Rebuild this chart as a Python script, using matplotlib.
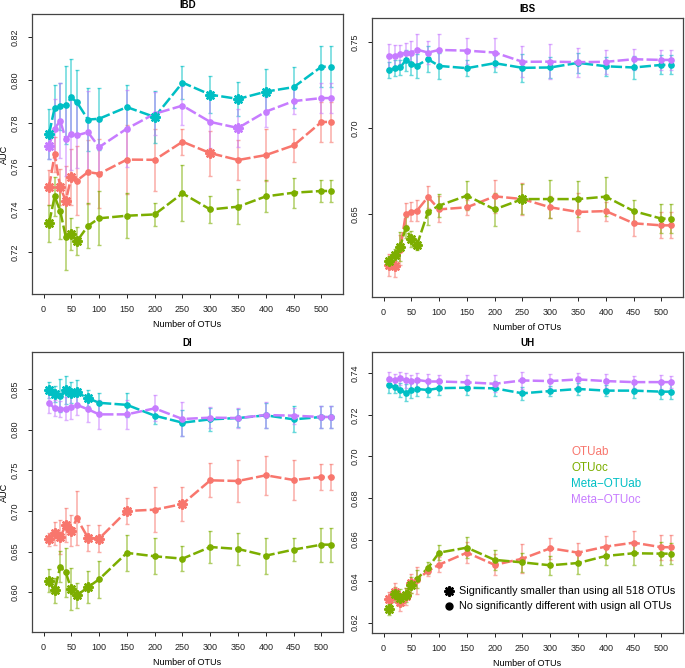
import matplotlib
matplotlib.use('Agg')
import matplotlib.pyplot as plt

plt.rcParams['font.family'] = ['Liberation Sans', 'DejaVu Sans']

# ---------------- data ----------------
x = [10, 20, 30, 40, 50, 60, 80, 100, 150, 200, 250, 300, 350, 400, 450, 500, 518]
series_names = ['OTUab', 'OTUoc', 'Meta\u2212OTUab', 'Meta\u2212OTUoc']

# IBD
ibd_otuab = [0.7501, 0.7654, 0.7503, 0.7438, 0.7549, 0.7532, 0.7572, 0.7564, 0.7630, 0.7629, 0.7713, 0.7660, 0.7628, 0.7651, 0.7696, 0.7805, 0.7805]
ibd_otuoc = [0.7334, 0.7459, 0.7391, 0.7271, 0.7284, 0.7250, 0.7322, 0.7357, 0.7369, 0.7375, 0.7473, 0.7398, 0.7411, 0.7459, 0.7476, 0.7484, 0.7484]
ibd_metaab = [0.7749, 0.7871, 0.7877, 0.7884, 0.7919, 0.7897, 0.7816, 0.7820, 0.7874, 0.7828, 0.7988, 0.7932, 0.7912, 0.7946, 0.7967, 0.8062, 0.8062]
ibd_metaoc = [0.7695, 0.7773, 0.7811, 0.7725, 0.7750, 0.7743, 0.7757, 0.7688, 0.7774, 0.7843, 0.7881, 0.7805, 0.7777, 0.7853, 0.7902, 0.7916, 0.7916]
ibd_otuab_err = [0.008, 0.008, 0.0085, 0.016, 0.013, 0.016, 0.015, 0.016, 0.016, 0.0145, 0.006, 0.0105, 0.0095, 0.012, 0.0075, 0.0095, 0.0095]
ibd_otuoc_err = [0.0085, 0.009, 0.013, 0.0155, 0.0075, 0.0065, 0.0105, 0.0125, 0.0105, 0.0055, 0.013, 0.0065, 0.008, 0.0075, 0.007, 0.0052, 0.0052]
ibd_metaab_err = [0.0115, 0.0105, 0.011, 0.018, 0.018, 0.015, 0.0145, 0.0145, 0.0105, 0.012, 0.0075, 0.0085, 0.008, 0.0105, 0.0095, 0.0095, 0.0095]
ibd_metaoc_err = [0.006, 0.014, 0.0175, 0.017, 0.017, 0.015, 0.019, 0.012, 0.018, 0.010, 0.009, 0.012, 0.009, 0.007, 0.006, 0.007, 0.007]
ibd_otuab_sig = [10, 30, 40, 50, 300]
ibd_otuoc_sig = [10, 50, 60]
ibd_metaab_sig = [10, 200, 300, 350, 400]
ibd_metaoc_sig = [10, 350]

# IBS
ibs_otuab = [0.6203, 0.6199, 0.6290, 0.6500, 0.6514, 0.6519, 0.6599, 0.6527, 0.6539, 0.6603, 0.6587, 0.6539, 0.6512, 0.6517, 0.6446, 0.6434, 0.6434]
ibs_otuoc = [0.6226, 0.6261, 0.6310, 0.6420, 0.6354, 0.6318, 0.6512, 0.6549, 0.6607, 0.6527, 0.6587, 0.6587, 0.6587, 0.6601, 0.6517, 0.6473, 0.6473]
ibs_metaab = [0.7337, 0.7349, 0.7353, 0.7395, 0.7376, 0.7364, 0.7401, 0.7362, 0.7349, 0.7378, 0.7351, 0.7353, 0.7380, 0.7360, 0.7353, 0.7368, 0.7368]
ibs_metaoc = [0.7420, 0.7420, 0.7430, 0.7438, 0.7440, 0.7457, 0.7440, 0.7455, 0.7451, 0.7440, 0.7386, 0.7387, 0.7384, 0.7386, 0.7401, 0.7397, 0.7397]
ibs_otuab_err = [0.0065, 0.0065, 0.0085, 0.0065, 0.0055, 0.006, 0.0065, 0.0075, 0.0045, 0.0095, 0.0095, 0.0065, 0.011, 0.0055, 0.0075, 0.0075, 0.0075]
ibs_otuoc_err = [0.003, 0.0035, 0.0085, 0.006, 0.0045, 0.003, 0.0075, 0.0065, 0.0085, 0.0095, 0.0085, 0.011, 0.0105, 0.0115, 0.0065, 0.0085, 0.0085]
ibs_metaab_err = [0.0045, 0.0045, 0.0045, 0.006, 0.0065, 0.007, 0.0075, 0.0075, 0.0048, 0.0052, 0.008, 0.006, 0.006, 0.0055, 0.0065, 0.0055, 0.0055]
ibs_metaoc_err = [0.007, 0.0065, 0.0055, 0.0055, 0.0065, 0.009, 0.0065, 0.009, 0.0075, 0.0085, 0.009, 0.010, 0.0085, 0.007, 0.006, 0.006, 0.006]
ibs_otuab_sig = [10, 20]
ibs_otuoc_sig = [10, 20, 30, 50, 60, 250]
ibs_metaab_sig = []
ibs_metaoc_sig = []

# DI
di_otuab = [0.6650, 0.6725, 0.6677, 0.6825, 0.6760, 0.6910, 0.6671, 0.6660, 0.7000, 0.7016, 0.7086, 0.7377, 0.7369, 0.7439, 0.7381, 0.7418, 0.7418]
di_otuoc = [0.6143, 0.6023, 0.6315, 0.6246, 0.6037, 0.5963, 0.6063, 0.6160, 0.6485, 0.6443, 0.6414, 0.6557, 0.6533, 0.6451, 0.6525, 0.6586, 0.6586]
di_metaab = [0.8490, 0.8443, 0.8420, 0.8490, 0.8452, 0.8458, 0.8387, 0.8330, 0.8305, 0.8172, 0.8086, 0.8127, 0.8143, 0.8176, 0.8127, 0.8156, 0.8156]
di_metaoc = [0.8328, 0.8262, 0.8250, 0.8260, 0.8282, 0.8305, 0.8250, 0.8188, 0.8188, 0.8262, 0.8131, 0.8148, 0.8143, 0.8180, 0.8172, 0.8156, 0.8156]
di_otuab_err = [0.0085, 0.014, 0.021, 0.021, 0.019, 0.033, 0.016, 0.017, 0.016, 0.028, 0.021, 0.021, 0.026, 0.024, 0.024, 0.016, 0.016]
di_otuoc_err = [0.014, 0.015, 0.019, 0.030, 0.026, 0.015, 0.020, 0.023, 0.022, 0.022, 0.015, 0.020, 0.020, 0.022, 0.014, 0.021, 0.021]
di_metaab_err = [0.010, 0.010, 0.020, 0.017, 0.013, 0.015, 0.010, 0.012, 0.015, 0.010, 0.016, 0.014, 0.011, 0.015, 0.016, 0.013, 0.013]
di_metaoc_err = [0.012, 0.010, 0.010, 0.014, 0.015, 0.013, 0.015, 0.018, 0.018, 0.016, 0.021, 0.013, 0.012, 0.016, 0.010, 0.014, 0.014]
di_otuab_sig = [10, 20, 30, 40, 50, 80, 100, 150, 250]
di_otuoc_sig = [10, 20, 50, 60, 80]
di_metaab_sig = [10, 20, 40, 50, 60, 80]
di_metaoc_sig = []

# UH
uh_otuab = [0.6312, 0.6349, 0.6299, 0.6327, 0.6390, 0.6405, 0.6449, 0.6479, 0.6537, 0.6478, 0.6508, 0.6558, 0.6537, 0.6566, 0.6585, 0.6563, 0.6563]
uh_otuoc = [0.6264, 0.6336, 0.6320, 0.6334, 0.6381, 0.6410, 0.6463, 0.6537, 0.6561, 0.6502, 0.6490, 0.6476, 0.6487, 0.6521, 0.6534, 0.6532, 0.6532]
uh_metaab = [0.7342, 0.7336, 0.7321, 0.7307, 0.7318, 0.7325, 0.7320, 0.7329, 0.7331, 0.7328, 0.7304, 0.7315, 0.7325, 0.7317, 0.7317, 0.7312, 0.7312]
uh_metaoc = [0.7371, 0.7368, 0.7376, 0.7366, 0.7361, 0.7369, 0.7361, 0.7361, 0.7357, 0.7350, 0.7366, 0.7363, 0.7371, 0.7363, 0.7358, 0.7358, 0.7358]
uh_otuab_err = [0.0035, 0.004, 0.0045, 0.004, 0.0045, 0.0065, 0.0025, 0.0035, 0.005, 0.005, 0.007, 0.005, 0.0045, 0.005, 0.0055, 0.006, 0.006]
uh_otuoc_err = [0.0025, 0.0035, 0.004, 0.0035, 0.004, 0.0045, 0.003, 0.0035, 0.005, 0.005, 0.0045, 0.0045, 0.0055, 0.0045, 0.0055, 0.0055, 0.005]
uh_metaab_err = [0.0035, 0.003, 0.0035, 0.004, 0.0035, 0.0035, 0.0035, 0.0035, 0.0035, 0.0035, 0.003, 0.0025, 0.003, 0.0025, 0.0035, 0.0035, 0.0035]
uh_metaoc_err = [0.0035, 0.003, 0.003, 0.0035, 0.003, 0.0035, 0.0035, 0.003, 0.0035, 0.004, 0.004, 0.0035, 0.003, 0.0035, 0.003, 0.0035, 0.003]
uh_otuab_sig = [10, 20, 30, 40, 50]
uh_otuoc_sig = [10, 20, 30, 40, 50]
uh_metaab_sig = []
uh_metaoc_sig = []

xtick_vals = [0, 50, 100, 150, 200, 250, 300, 350, 400, 450, 500]
legend_sig_labels = ['Significantly smaller than using all 518 OTUs',
                     'No significantly different with usign all OTUs']

# ---------------- style ----------------
colors = ['#F8766D', '#7CAE00', '#00BFC4', '#C77CFF']
W, H = 685, 668
fig = plt.figure(figsize=(W / 100, H / 100), dpi=100)


def rect(l, t, r, b):
    return [l / W, 1 - b / H, (r - l) / W, (b - t) / H]


panels = [
    dict(title='IBD', box=(32, 14, 343, 294), ylim=(0.7005, 0.8307),
         yticks=[0.72, 0.74, 0.76, 0.78, 0.80, 0.82], fmt='{:.2f}', ylabel=True,
         data=[(ibd_otuab, ibd_otuab_err, ibd_otuab_sig), (ibd_otuoc, ibd_otuoc_err, ibd_otuoc_sig),
               (ibd_metaab, ibd_metaab_err, ibd_metaab_sig), (ibd_metaoc, ibd_metaoc_err, ibd_metaoc_sig)]),
    dict(title='IBS', box=(372, 18, 683, 297), ylim=(0.6017, 0.7641),
         yticks=[0.65, 0.70, 0.75], fmt='{:.2f}', ylabel=False,
         data=[(ibs_otuab, ibs_otuab_err, ibs_otuab_sig), (ibs_otuoc, ibs_otuoc_err, ibs_otuoc_sig),
               (ibs_metaab, ibs_metaab_err, ibs_metaab_sig), (ibs_metaoc, ibs_metaoc_err, ibs_metaoc_sig)]),
    dict(title='DI', box=(32, 352, 343, 632), ylim=(0.5512, 0.8955),
         yticks=[0.60, 0.65, 0.70, 0.75, 0.80, 0.85], fmt='{:.2f}', ylabel=True,
         data=[(di_otuab, di_otuab_err, di_otuab_sig), (di_otuoc, di_otuoc_err, di_otuoc_sig),
               (di_metaab, di_metaab_err, di_metaab_sig), (di_metaoc, di_metaoc_err, di_metaoc_sig)]),
    dict(title='UH', box=(372, 352, 683, 633), ylim=(0.6150, 0.7503),
         yticks=[0.62, 0.64, 0.66, 0.68, 0.70, 0.72, 0.74], fmt='{:.2f}', ylabel=False,
         data=[(uh_otuab, uh_otuab_err, uh_otuab_sig), (uh_otuoc, uh_otuoc_err, uh_otuoc_sig),
               (uh_metaab, uh_metaab_err, uh_metaab_sig), (uh_metaoc, uh_metaoc_err, uh_metaoc_sig)]),
]

LS = (0, (4.5, 1.3))
FS = 6.5


def big_marker(ax, xs, ys, c, **kw):
    ax.plot(xs, ys, 'o', ms=5.4, color=c, ls='none', zorder=5, **kw)
    ax.plot(xs, ys, marker=(8, 2, 0), ms=7.6, mew=1.4, color=c, ls='none', zorder=5, **kw)


axes = []
for p in panels:
    l, t, r, b = p['box']
    ax = fig.add_axes(rect(l, t, r, b))
    axes.append(ax)
    for (ys, es, sig), c in zip(p['data'], colors):
        ax.errorbar(x, ys, yerr=es, fmt='none', ecolor=c, alpha=0.6, elinewidth=1.1,
                    capsize=1.3, capthick=1.0, zorder=2)
        ax.plot(x, ys, color=c, lw=1.8, ls=LS, zorder=3)
        sx = [xi for xi, yi in zip(x, ys) if xi not in sig]
        sy = [yi for xi, yi in zip(x, ys) if xi not in sig]
        bx = [xi for xi, yi in zip(x, ys) if xi in sig]
        by = [yi for xi, yi in zip(x, ys) if xi in sig]
        ax.plot(sx, sy, 'o', ms=3.8, color=c, ls='none', zorder=4)
        if bx:
            big_marker(ax, bx, by, c)
    ax.set_xlim(-20.7, 538.7)
    ax.set_ylim(*p['ylim'])
    ax.set_xticks(xtick_vals)
    ax.set_xticklabels([str(v) for v in xtick_vals])
    ax.set_yticks(p['yticks'])
    ax.set_yticklabels([p['fmt'].format(v) for v in p['yticks']], rotation=90, va='center')
    ax.tick_params(axis='both', direction='out', length=3, width=0.7, labelsize=FS, colors='#222222')
    ax.tick_params(axis='x', pad=5)
    ax.tick_params(axis='y', pad=6)
    for s in ax.spines.values():
        s.set_linewidth(0.9)
        s.set_color('#444444')
    ax.set_title(p['title'], fontsize=7, fontweight='bold', pad=4)
    ax.set_xlabel('Number of OTUs', fontsize=FS)
    ax.xaxis.set_label_coords(0.5, -0.092)
    if p['ylabel']:
        ax.set_ylabel('AUC', fontsize=FS, va='center')
        ax.yaxis.set_label_coords(-0.087, 0.5)

# legends in UH panel
ax = axes[3]
ys_leg = [0.644, 0.587, 0.530, 0.473]
for name, c, yy in zip(series_names, colors, ys_leg):
    ax.text(0.640, yy, name, color=c, fontsize=8.4, transform=ax.transAxes, va='center', ha='left')

big_marker(ax, [0.2476], [0.1495], 'black', transform=ax.transAxes, clip_on=False)
ax.plot([0.2476], [0.0961], 'o', ms=5, color='black', transform=ax.transAxes, clip_on=False)
ax.text(0.2807, 0.1495, legend_sig_labels[0], fontsize=7.75, transform=ax.transAxes, va='center', ha='left')
ax.text(0.2807, 0.0961, legend_sig_labels[1], fontsize=7.75, transform=ax.transAxes, va='center', ha='left')

fig.savefig('out.png', dpi=100)
